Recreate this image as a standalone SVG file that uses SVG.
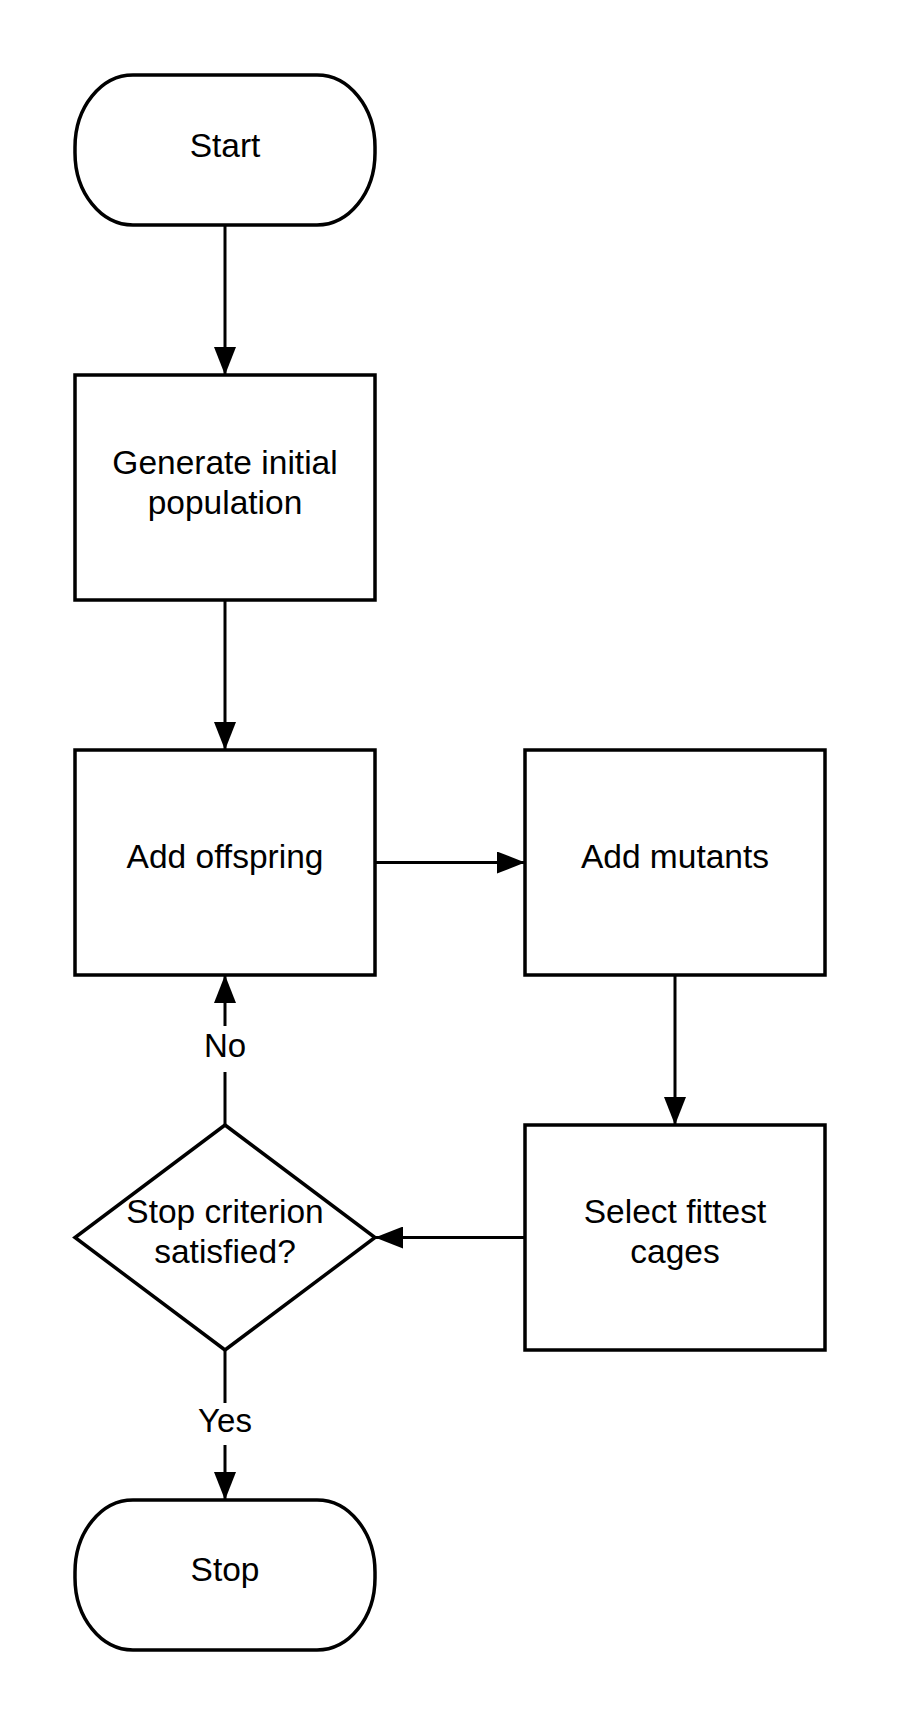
<svg xmlns="http://www.w3.org/2000/svg" width="900" height="1725" viewBox="0 0 900 1725">
<style>
.shape{fill:#fff;stroke:#000;stroke-width:3.5}
.edge{fill:none;stroke:#000;stroke-width:3;marker-end:url(#arrow)}
.t{font-family:"Liberation Sans",Arial,sans-serif;font-size:33.5px;fill:#000;text-anchor:middle}
.lbl{font-family:"Liberation Sans",Arial,sans-serif;font-size:33px;fill:#000;text-anchor:middle}
</style>
<defs>
<marker id="arrow" markerUnits="userSpaceOnUse" markerWidth="28" markerHeight="22" refX="28" refY="11" orient="auto">
<path d="M0,0 L28,11 L0,22 z" fill="#000"/>
</marker>
</defs>
<rect width="900" height="1725" fill="#fff"/>
<g id="connectors">
<line class="edge" x1="225" y1="225" x2="225" y2="375"/>
<line class="edge" x1="225" y1="600" x2="225" y2="750"/>
<line class="edge" x1="375" y1="862.5" x2="525" y2="862.5"/>
<line class="edge" x1="675" y1="975" x2="675" y2="1125"/>
<line class="edge" x1="525" y1="1237.5" x2="375" y2="1237.5"/>
<line class="edge" x1="225" y1="1125" x2="225" y2="975"/>
<line class="edge" x1="225" y1="1350" x2="225" y2="1500"/>
<rect x="203" y="1026" width="44" height="46" fill="#fff"/>
<text class="lbl" x="225" y="1057">No</text>
<rect x="193" y="1403" width="64" height="42" fill="#fff"/>
<text class="lbl" x="225" y="1432">Yes</text>
</g>
<g id="start">
<rect class="shape" x="75" y="75" width="300" height="150" rx="58" ry="72"/>
<text class="t" x="225" y="157">Start</text>
</g>
<g id="generate">
<rect class="shape" x="75" y="375" width="300" height="225"/>
<text class="t" x="225" y="474">Generate initial</text>
<text class="t" x="225" y="514">population</text>
</g>
<g id="offspring">
<rect class="shape" x="75" y="750" width="300" height="225"/>
<text class="t" x="225" y="868">Add offspring</text>
</g>
<g id="mutants">
<rect class="shape" x="525" y="750" width="300" height="225"/>
<text class="t" x="675" y="868">Add mutants</text>
</g>
<g id="select">
<rect class="shape" x="525" y="1125" width="300" height="225"/>
<text class="t" x="675" y="1223">Select fittest</text>
<text class="t" x="675" y="1263">cages</text>
</g>
<g id="decision">
<polygon class="shape" points="225,1125 375,1237.5 225,1350 75,1237.5"/>
<text class="t" x="225" y="1223">Stop criterion</text>
<text class="t" x="225" y="1263">satisfied?</text>
</g>
<g id="stop">
<rect class="shape" x="75" y="1500" width="300" height="150" rx="58" ry="72"/>
<text class="t" x="225" y="1581">Stop</text>
</g>
</svg>
